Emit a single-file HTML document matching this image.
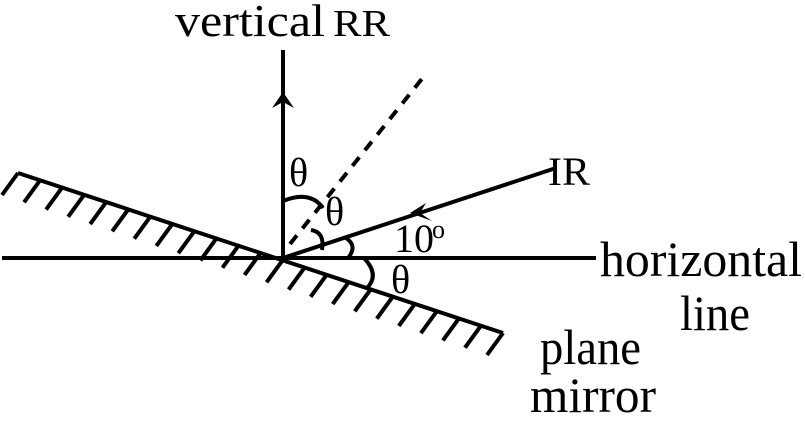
<!DOCTYPE html>
<html><head><style>
html,body{margin:0;padding:0;background:#fff;}
svg{display:block}
text{font-family:"Liberation Serif",serif;fill:#000}
</style></head><body>
<svg id="s" width="805" height="421" viewBox="0 0 805 421" xmlns="http://www.w3.org/2000/svg">
<g stroke="#000" stroke-width="4" fill="none" stroke-linecap="butt">
<line x1="283" y1="50" x2="283" y2="259"/>
<line x1="2" y1="258" x2="596" y2="258"/>
<line x1="18" y1="173" x2="503" y2="333"/>
<line x1="283" y1="258" x2="556" y2="168"/>
<line x1="290" y1="244" x2="425" y2="75" stroke-dasharray="11,9"/>
<path d="M283,201 Q310,190 323,208"/>
<path d="M311,230 Q325,232 322,250"/>
<path d="M346,238 Q358,246 348,258"/>
<path d="M364,258 Q380,275 367,288"/>
<g id="h"></g>
</g>
<path d="M283,92 L272,108 L283,102 L294,108 Z" fill="#000"/>
<path d="M410,213 L426,203 L420,213 L432,221 Z" fill="#000"/>
<text x="175" y="36" font-size="46" textLength="150" lengthAdjust="spacingAndGlyphs">vertical</text>
<text x="333" y="36" font-size="38" textLength="57" lengthAdjust="spacingAndGlyphs">RR</text>
<text x="548" y="185" font-size="40" textLength="42" lengthAdjust="spacingAndGlyphs">IR</text>
<text x="394" y="252" font-size="40" textLength="40" lengthAdjust="spacingAndGlyphs">10</text>
<text x="432" y="238" font-size="26">o</text>
<text x="289" y="186" font-size="40">θ</text>
<text x="325" y="225" font-size="40">θ</text>
<text x="391" y="293" font-size="40">θ</text>
<text x="600" y="276" font-size="50" textLength="202" lengthAdjust="spacingAndGlyphs">horizontal</text>
<text x="680" y="330" font-size="50" textLength="70" lengthAdjust="spacingAndGlyphs">line</text>
<text x="540" y="364" font-size="50" textLength="101" lengthAdjust="spacingAndGlyphs">plane</text>
<text x="530" y="412" font-size="50" textLength="126" lengthAdjust="spacingAndGlyphs">mirror</text>
</svg>
<script>
var g=document.getElementById('h'),s='';
for(var i=0;i<=22;i++){var t=i/22;var x=18+485*t,y=173+160*t;
s+='<line x1="'+x+'" y1="'+y+'" x2="'+(x-16)+'" y2="'+(y+22)+'"/>';}
g.innerHTML=s;
</script>
</body></html>
